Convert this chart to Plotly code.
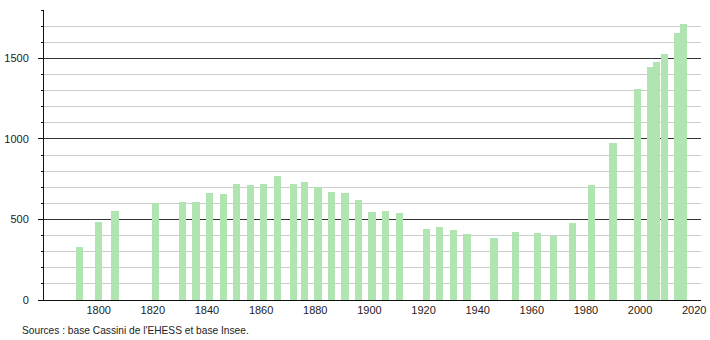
import plotly.graph_objects as go

years = [1793, 1800, 1806, 1821, 1831, 1836, 1841, 1846, 1851, 1856, 1861, 1866,
         1872, 1876, 1881, 1886, 1891, 1896, 1901, 1906, 1911, 1921, 1926, 1931,
         1936, 1946, 1954, 1962, 1968, 1975, 1982, 1990, 1999, 2004, 2006, 2009,
         2014, 2016]
population = [328, 486, 553, 603, 611, 611, 667, 661, 717, 711, 717, 767,
              717, 731, 704, 673, 667, 623, 548, 555, 541, 440, 453, 436,
              410, 387, 420, 418, 397, 476, 711, 977, 1309, 1449, 1478, 1527,
              1658, 1714]
x_ticks = [1800, 1820, 1840, 1860, 1880, 1900, 1920, 1940, 1960, 1980, 2000, 2020]
y_ticks = [0, 500, 1000, 1500]
source_text = "Sources : base Cassini de l'EHESS et base Insee."

font = dict(family="Liberation Sans, Arial, sans-serif", size=11, color="#222222")
source_font = dict(family="Liberation Sans, Arial, sans-serif", size=10.2, color="#222222")

fig = go.Figure()
fig.add_trace(go.Bar(
    x=years, y=population,
    width=2.7,
    marker=dict(color="#b0e4b0", line=dict(width=0)),
    hoverinfo="x+y",
))

fig.update_layout(
    width=710, height=340,
    margin=dict(l=44, r=9, t=10, b=40),
    plot_bgcolor="white", paper_bgcolor="white",
    font=font,
    showlegend=False,
    bargap=0,
    xaxis=dict(
        range=[1779.8, 2022.5],
        tickmode="array", tickvals=x_ticks,
        ticks="", showgrid=False, zeroline=False,
        showline=True, linecolor="#111111", linewidth=1,
        ticklabelstandoff=0, automargin=False,
        tickfont=font,
    ),
    yaxis=dict(
        range=[0, 1800],
        tickmode="array", tickvals=y_ticks,
        ticks="outside", ticklen=5, tickcolor="#111111", tickwidth=1,
        showgrid=True, gridcolor="#333333", gridwidth=1,
        zeroline=False,
        showline=True, linecolor="#111111", linewidth=1,
        ticklabelstandoff=7, automargin=False,
        tickfont=font,
        minor=dict(dtick=100, tick0=0, ticks="outside", ticklen=2,
                   tickcolor="#111111", showgrid=True,
                   gridcolor="#cccccc", gridwidth=1),
    ),
    annotations=[dict(
        text=source_text, xref="paper", yref="paper",
        x=-24/657, y=-30/290, xanchor="left", yanchor="middle",
        showarrow=False, font=source_font,
    )],
)

fig.write_html("out.html")
